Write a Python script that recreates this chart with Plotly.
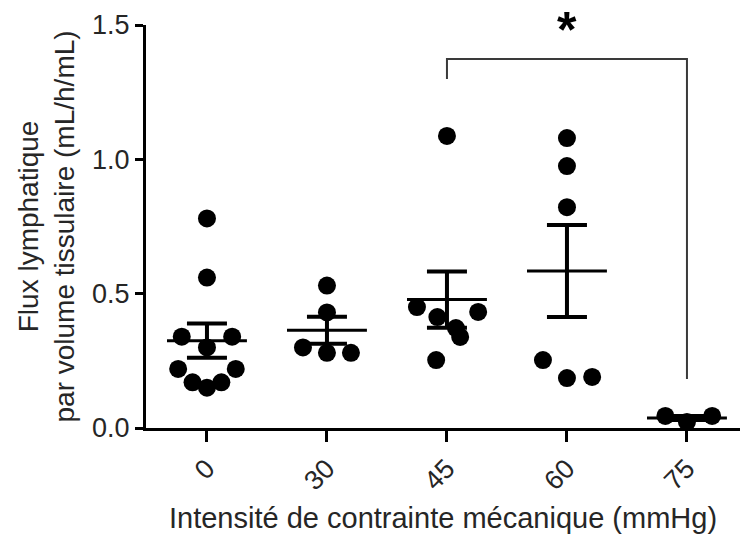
import numpy as np
import plotly.graph_objects as go

# ---- data ----
categories = ["0", "30", "45", "60", "75"]
values_0 = [0.78, 0.56, 0.34, 0.34, 0.30, 0.22, 0.22, 0.17, 0.15, 0.17]
values_30 = [0.53, 0.43, 0.30, 0.28, 0.28]
values_45 = [1.087, 0.45, 0.432, 0.413, 0.372, 0.339, 0.253]
values_60 = [1.079, 0.975, 0.822, 0.253, 0.186, 0.19]
values_75 = [0.045, 0.022, 0.045]
groups = [values_0, values_30, values_45, values_60, values_75]

# horizontal spread of the dots inside each column (scatter dot plot)
spread_0 = [0, 0, -0.21, 0.21, 0, -0.24, 0.24, -0.12, 0, 0.12]
spread_30 = [0, 0, -0.2, 0, 0.2]
spread_45 = [0, -0.25, 0.26, -0.08, 0.075, 0.11, -0.09]
spread_60 = [0, 0, 0, -0.2, 0, 0.21]
spread_75 = [-0.18, 0, 0.21]
spreads = [spread_0, spread_30, spread_45, spread_60, spread_75]

y_ticks = [0.0, 0.5, 1.0, 1.5]
sig_pair = (2, 4)
sig_label = "*"

x_title = "Intensité de contrainte mécanique (mmHg)"
y_title = "Flux lymphatique<br>par volume tissulaire (mL/h/mL)"

FONT = "Liberation Sans, Arial, sans-serif"
TXT = "#262626"

means = [float(np.mean(g)) for g in groups]
sems = [float(np.std(g, ddof=1) / np.sqrt(len(g))) for g in groups]

fig = go.Figure()

# dots
dx, dy = [], []
for i, (g, s) in enumerate(zip(groups, spreads)):
    for v, o in zip(g, s):
        dx.append(i + o)
        dy.append(v)
fig.add_trace(go.Scatter(x=dx, y=dy, mode="markers",
                         marker=dict(size=18, color="black", line=dict(width=0)),
                         cliponaxis=False, showlegend=False, hoverinfo="y"))

# mean lines
mx, my = [], []
for i, m in enumerate(means):
    mx += [i - 0.333, i + 0.333, None]
    my += [m, m, None]
fig.add_trace(go.Scatter(x=mx, y=my, mode="lines",
                         line=dict(color="black", width=3),
                         showlegend=False, hoverinfo="skip"))

# SEM error bars
fig.add_trace(go.Scatter(x=list(range(len(categories))), y=means, mode="markers",
                         marker=dict(size=1, color="rgba(0,0,0,0)"),
                         error_y=dict(type="data", array=sems, visible=True,
                                      color="black", thickness=4, width=20),
                         cliponaxis=False, showlegend=False, hoverinfo="skip"))

# significance bracket
a, b = sig_pair
bracket_top = 1.373
fig.add_trace(go.Scatter(x=[a, a, b, b], y=[1.299, bracket_top, bracket_top, 0.182],
                         mode="lines", line=dict(color="#3a3a3a", width=2),
                         showlegend=False, hoverinfo="skip"))
fig.add_annotation(x=(a + b) / 2, y=1.5, xref="x", yref="y",
                   text="<b>" + sig_label + "</b>", showarrow=False,
                   font=dict(family=FONT, size=50, color="black"),
                   xanchor="center", yanchor="middle", yshift=-5)

# axis titles as annotations
fig.add_annotation(x=0, y=0.5, xref="paper", yref="paper", text=y_title,
                   textangle=-90, showarrow=False, xanchor="center", yanchor="middle",
                   xshift=-100, font=dict(family=FONT, size=28, color=TXT))
fig.add_annotation(x=0.5, y=0, xref="paper", yref="paper", text=x_title,
                   showarrow=False, xanchor="center", yanchor="middle",
                   yshift=-90, font=dict(family=FONT, size=29, color=TXT))

fig.update_layout(
    width=740, height=538,
    margin=dict(l=146, r=0, t=25, b=110),
    plot_bgcolor="white", paper_bgcolor="white",
    font=dict(family=FONT, size=27, color=TXT),
)
fig.update_xaxes(
    range=[-0.508, 4.442], tickmode="array",
    tickvals=list(range(len(categories))), ticktext=categories,
    tickangle=-45, ticks="outside", ticklen=11, tickwidth=3, tickcolor="black",
    showline=True, linecolor="black", linewidth=3, showgrid=False, zeroline=False,
    tickfont=dict(family=FONT, size=27, color=TXT),
)
fig.update_yaxes(
    range=[0, 1.5], tickmode="array", tickvals=y_ticks,
    ticktext=[f"{v:.1f}" for v in y_ticks],
    ticks="outside", ticklen=8, tickwidth=3, tickcolor="black",
    showline=True, linecolor="black", linewidth=3, showgrid=False, zeroline=False,
    tickfont=dict(family=FONT, size=27, color=TXT),
)

fig.write_html("out.html", config={"displayModeBar": False},
               post_script="document.body.style.margin='0';document.body.style.overflow='hidden';")
